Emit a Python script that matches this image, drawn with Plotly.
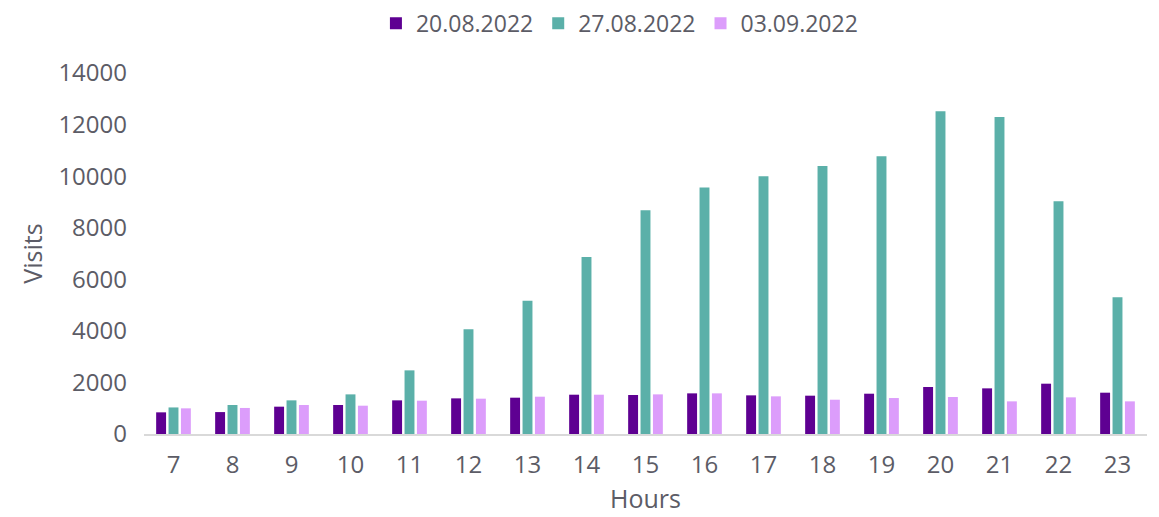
import plotly.graph_objects as go

hours = [str(h) for h in range(7, 24)]
s1_name = "20.08.2022"
s2_name = "27.08.2022"
s3_name = "03.09.2022"
s1 = [840, 850, 1060, 1125, 1305, 1382, 1408, 1524, 1512, 1576, 1499, 1486, 1563, 1822, 1770, 1951, 1602]
s2 = [1030, 1125, 1305, 1537, 2468, 4060, 5170, 6860, 8680, 9560, 10000, 10390, 10770, 12520, 12290, 9030, 5300]
s3 = [995, 1010, 1125, 1098, 1292, 1370, 1447, 1524, 1537, 1576, 1460, 1330, 1395, 1434, 1266, 1421, 1266]

font_family = "Open Sans, Lato, sans-serif"
text_color = "#5c5c66"

fig = go.Figure()
for name, vals, col in [(s1_name, s1, "#5e0092"), (s2_name, s2, "#5bb0a9"), (s3_name, s3, "#dc9dfb")]:
    fig.add_trace(go.Bar(x=hours, y=vals, name=name, marker=dict(color=col, line=dict(width=0))))

fig.update_layout(
    width=1159, height=517,
    paper_bgcolor="white", plot_bgcolor="white",
    margin=dict(l=136, r=20, t=65, b=91, autoexpand=False),
    barmode="group", bargap=0.37, bargroupgap=0.2,
    font=dict(family=font_family, color=text_color, size=24),
    legend=dict(orientation="h", x=0.474, xanchor="center", y=1.138, yanchor="middle",
                font=dict(size=23, color=text_color), traceorder="normal",
                itemwidth=30, tracegroupgap=0),
    showlegend=True,
)
fig.update_yaxes(range=[0, 14000], dtick=2000, tickformat="d", showgrid=False, zeroline=False,
                 showline=False, ticks="", automargin=False, ticklabelstandoff=16,
                 tickfont=dict(size=24, color=text_color),
                 title=dict(text="Visits", font=dict(size=25, color=text_color), standoff=8))
fig.update_xaxes(showgrid=False, showline=True, linecolor="#d9d9d9", linewidth=2, ticks="",
                 automargin=False, ticklabelstandoff=8,
                 tickfont=dict(size=24, color=text_color),
                 title=dict(text="Hours", font=dict(size=25, color=text_color), standoff=12))

fig.write_html("out.html")
